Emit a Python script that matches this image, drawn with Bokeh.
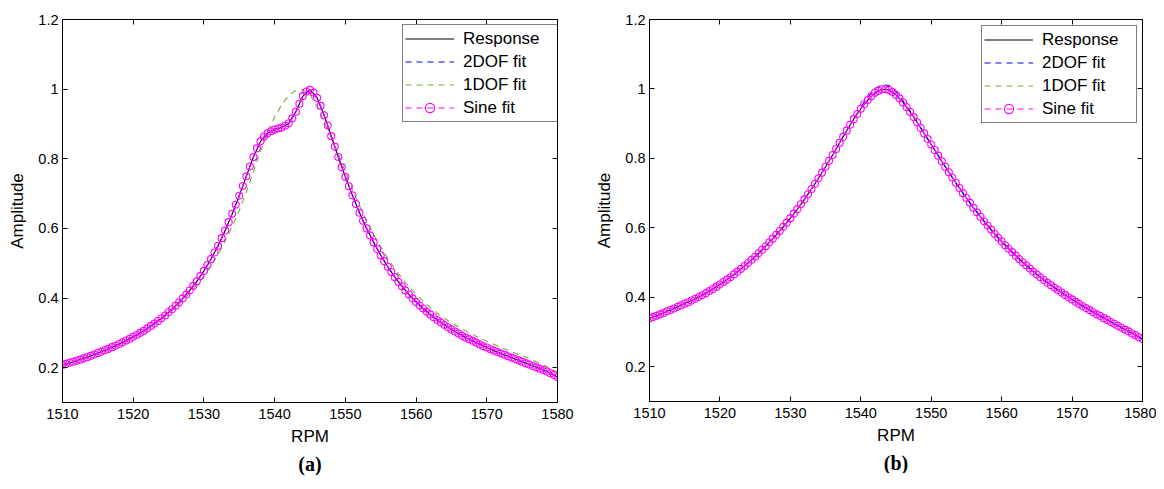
from bokeh.plotting import figure
from bokeh.layouts import row
from bokeh.models import (Legend, LegendItem, LinearAxis, FixedTicker, Title, Range1d)
from bokeh.embed import file_html
from bokeh.resources import INLINE

# ---------------- data ----------------
rpm = list(range(1510, 1581))                     # 1 RPM grid for the lines
rpm_sine = [1510 + 0.5 * i for i in range(141)]   # 0.5 RPM grid for sine-fit markers

x_ticks = [1510, 1520, 1530, 1540, 1550, 1560, 1570, 1580]
y_ticks = [0.2, 0.4, 0.6, 0.8, 1.0, 1.2]
y_tick_labels = ["0.2", "0.4", "0.6", "0.8", "1", "1.2"]

series_names = ["Response", "2DOF fit", "1DOF fit", "Sine fit"]
captions = ["(a)", "(b)"]

response_a = [0.208, 0.214, 0.220, 0.227, 0.234, 0.242, 0.250, 0.259, 0.268, 0.278,
              0.289, 0.300, 0.313, 0.327, 0.342, 0.359, 0.378, 0.399, 0.422, 0.448,
              0.478, 0.512, 0.550, 0.594, 0.642, 0.694, 0.750, 0.805, 0.850, 0.873,
              0.884, 0.890, 0.902, 0.935, 0.980, 0.998, 0.975, 0.925, 0.865, 0.805,
              0.748, 0.695, 0.645, 0.600, 0.560, 0.523, 0.490, 0.460, 0.434, 0.410,
              0.389, 0.370, 0.353, 0.337, 0.323, 0.310, 0.298, 0.287, 0.277, 0.267,
              0.258, 0.249, 0.241, 0.233, 0.225, 0.217, 0.209, 0.201, 0.193, 0.184,
              0.173]
dof2_a = [0.208, 0.214, 0.220, 0.227, 0.234, 0.242, 0.250, 0.259, 0.268, 0.278,
          0.289, 0.300, 0.313, 0.327, 0.342, 0.359, 0.378, 0.399, 0.422, 0.448,
          0.478, 0.512, 0.550, 0.594, 0.642, 0.694, 0.750, 0.805, 0.850, 0.873,
          0.884, 0.890, 0.902, 0.935, 0.980, 0.996, 0.975, 0.925, 0.865, 0.805,
          0.748, 0.695, 0.645, 0.600, 0.560, 0.523, 0.490, 0.460, 0.434, 0.410,
          0.389, 0.370, 0.353, 0.337, 0.323, 0.310, 0.298, 0.287, 0.277, 0.267,
          0.258, 0.249, 0.241, 0.233, 0.225, 0.217, 0.209, 0.201, 0.193, 0.184,
          0.173]
dof1_a = [0.205, 0.211, 0.217, 0.224, 0.231, 0.239, 0.247, 0.256, 0.265, 0.275,
          0.286, 0.297, 0.310, 0.324, 0.339, 0.356, 0.374, 0.394, 0.415, 0.438,
          0.463, 0.492, 0.525, 0.563, 0.605, 0.652, 0.705, 0.762, 0.822, 0.877,
          0.920, 0.955, 0.982, 0.997, 0.998, 0.984, 0.950, 0.905, 0.860, 0.815,
          0.762, 0.712, 0.665, 0.622, 0.583, 0.547, 0.514, 0.484, 0.457, 0.433,
          0.411, 0.391, 0.373, 0.357, 0.342, 0.329, 0.317, 0.306, 0.295, 0.285,
          0.276, 0.267, 0.258, 0.250, 0.242, 0.234, 0.226, 0.217, 0.208, 0.198,
          0.187]
sine_a = [0.208, 0.211, 0.214, 0.217, 0.220, 0.223, 0.227, 0.230, 0.234, 0.238,
          0.242, 0.246, 0.250, 0.254, 0.259, 0.263, 0.268, 0.273, 0.278, 0.283,
          0.289, 0.294, 0.300, 0.306, 0.313, 0.320, 0.327, 0.334, 0.342, 0.350,
          0.359, 0.368, 0.378, 0.388, 0.399, 0.410, 0.422, 0.435, 0.448, 0.463,
          0.478, 0.495, 0.512, 0.531, 0.550, 0.572, 0.594, 0.618, 0.642, 0.668,
          0.694, 0.722, 0.750, 0.778, 0.805, 0.830, 0.850, 0.864, 0.873, 0.879,
          0.884, 0.887, 0.890, 0.895, 0.902, 0.916, 0.935, 0.958, 0.980, 0.993,
          0.998, 0.990, 0.975, 0.952, 0.925, 0.896, 0.865, 0.835, 0.805, 0.776,
          0.748, 0.721, 0.695, 0.670, 0.645, 0.622, 0.600, 0.580, 0.560, 0.541,
          0.523, 0.506, 0.490, 0.475, 0.460, 0.447, 0.434, 0.422, 0.410, 0.399,
          0.389, 0.379, 0.370, 0.361, 0.353, 0.345, 0.337, 0.330, 0.323, 0.316,
          0.310, 0.304, 0.298, 0.292, 0.287, 0.282, 0.277, 0.272, 0.267, 0.262,
          0.258, 0.253, 0.249, 0.245, 0.241, 0.237, 0.233, 0.229, 0.225, 0.221,
          0.217, 0.213, 0.209, 0.205, 0.201, 0.197, 0.193, 0.189, 0.184, 0.179,
          0.173]

response_b = [0.340, 0.347, 0.355, 0.364, 0.373, 0.382, 0.391, 0.401, 0.412, 0.424,
              0.437, 0.451, 0.466, 0.482, 0.499, 0.517, 0.537, 0.558, 0.580, 0.603,
              0.628, 0.654, 0.682, 0.712, 0.743, 0.776, 0.810, 0.845, 0.880, 0.913,
              0.943, 0.968, 0.989, 0.999, 0.997, 0.983, 0.961, 0.934, 0.904, 0.872,
              0.840, 0.808, 0.776, 0.745, 0.715, 0.686, 0.658, 0.632, 0.607, 0.583,
              0.561, 0.540, 0.520, 0.501, 0.483, 0.466, 0.450, 0.435, 0.421, 0.407,
              0.394, 0.381, 0.369, 0.357, 0.346, 0.335, 0.324, 0.313, 0.302, 0.291,
              0.280]
dof2_b = [0.340, 0.347, 0.355, 0.364, 0.373, 0.382, 0.391, 0.401, 0.412, 0.424,
          0.437, 0.451, 0.466, 0.482, 0.499, 0.517, 0.537, 0.558, 0.580, 0.603,
          0.628, 0.654, 0.682, 0.712, 0.743, 0.776, 0.810, 0.845, 0.880, 0.913,
          0.948, 0.976, 1.001, 1.012, 1.010, 0.993, 0.966, 0.936, 0.905, 0.872,
          0.840, 0.808, 0.776, 0.745, 0.715, 0.686, 0.658, 0.632, 0.607, 0.583,
          0.561, 0.540, 0.520, 0.501, 0.483, 0.466, 0.450, 0.435, 0.421, 0.407,
          0.394, 0.381, 0.369, 0.357, 0.346, 0.335, 0.324, 0.313, 0.302, 0.291,
          0.280]
dof1_b = [0.340, 0.347, 0.355, 0.364, 0.373, 0.382, 0.391, 0.401, 0.412, 0.424,
          0.437, 0.451, 0.466, 0.482, 0.499, 0.517, 0.537, 0.558, 0.580, 0.603,
          0.628, 0.654, 0.682, 0.712, 0.743, 0.776, 0.810, 0.845, 0.880, 0.913,
          0.943, 0.968, 0.989, 0.998, 0.996, 0.983, 0.961, 0.934, 0.904, 0.872,
          0.840, 0.808, 0.776, 0.745, 0.715, 0.686, 0.658, 0.632, 0.607, 0.583,
          0.561, 0.540, 0.520, 0.501, 0.483, 0.466, 0.450, 0.435, 0.421, 0.407,
          0.394, 0.381, 0.369, 0.357, 0.346, 0.335, 0.324, 0.313, 0.302, 0.291,
          0.280]
sine_b = [0.340, 0.343, 0.347, 0.351, 0.355, 0.360, 0.364, 0.368, 0.373, 0.377,
          0.382, 0.386, 0.391, 0.396, 0.401, 0.406, 0.412, 0.418, 0.424, 0.430,
          0.437, 0.444, 0.451, 0.458, 0.466, 0.474, 0.482, 0.490, 0.499, 0.508,
          0.517, 0.527, 0.537, 0.547, 0.558, 0.569, 0.580, 0.591, 0.603, 0.615,
          0.628, 0.641, 0.654, 0.668, 0.682, 0.697, 0.712, 0.727, 0.743, 0.759,
          0.776, 0.793, 0.810, 0.827, 0.845, 0.862, 0.880, 0.897, 0.913, 0.928,
          0.943, 0.956, 0.968, 0.979, 0.989, 0.995, 0.999, 0.999, 0.997, 0.991,
          0.983, 0.973, 0.961, 0.948, 0.934, 0.919, 0.904, 0.888, 0.872, 0.856,
          0.840, 0.824, 0.808, 0.792, 0.776, 0.760, 0.745, 0.730, 0.715, 0.700,
          0.686, 0.672, 0.658, 0.645, 0.632, 0.619, 0.607, 0.595, 0.583, 0.572,
          0.561, 0.550, 0.540, 0.530, 0.520, 0.510, 0.501, 0.492, 0.483, 0.474,
          0.466, 0.458, 0.450, 0.442, 0.435, 0.428, 0.421, 0.414, 0.407, 0.400,
          0.394, 0.387, 0.381, 0.375, 0.369, 0.363, 0.357, 0.351, 0.346, 0.340,
          0.335, 0.329, 0.324, 0.318, 0.313, 0.307, 0.302, 0.296, 0.291, 0.285,
          0.280]

# ---------------- styling ----------------
FONT = "Liberation Sans"
C_RESP = "#000000"
C_2DOF = "#0000ff"
C_1DOF = "#77ac30"
C_SINE = "#ff00ff"
DASH = "6 5"


def make_panel(resp, dof2, dof1, sine, caption, left, right, top, fh, fw, leg_xy):
    p = figure(frame_width=fw, frame_height=fh,
               x_range=Range1d(1510, 1580), y_range=Range1d(0.1, 1.2),
               output_backend="svg", toolbar_location=None, title=None,
               min_border_left=left, min_border_right=right,
               min_border_top=top, min_border_bottom=60)
    p.xgrid.visible = False
    p.ygrid.visible = False
    p.outline_line_color = "black"
    p.background_fill_color = "white"

    # bottom / left axes
    xa = p.xaxis[0]
    xa.ticker = FixedTicker(ticks=x_ticks)
    ya = p.yaxis[0]
    ya.ticker = FixedTicker(ticks=y_ticks)
    ya.major_label_overrides = {t: s for t, s in zip(y_ticks, y_tick_labels)}
    for ax in (xa, ya):
        ax.major_tick_in = 5
        ax.major_tick_out = 0
        ax.minor_tick_line_color = None
        ax.axis_line_color = "black"
        ax.major_tick_line_color = "black"
        ax.major_label_text_font = FONT
        ax.major_label_text_font_size = "14.5px"
        ax.major_label_text_color = "black"
        ax.axis_label_text_font = FONT
        ax.axis_label_text_font_size = "17px"
        ax.axis_label_text_font_style = "normal"
        ax.axis_label_text_color = "black"
    xa.axis_label = "RPM"
    xa.major_label_standoff = 6
    xa.axis_label_standoff = 5
    ya.axis_label = "Amplitude"
    ya.major_label_standoff = 4
    ya.axis_label_standoff = 8

    # top / right axes (box with inward ticks, labels not drawn)
    for loc, tk in (("above", x_ticks), ("right", y_ticks)):
        ax = LinearAxis(ticker=FixedTicker(ticks=tk),
                        major_tick_in=5, major_tick_out=0,
                        minor_tick_line_color=None,
                        major_label_text_font_size="1px",
                        major_label_text_color=None,
                        major_label_standoff=0,
                        axis_line_color="black", major_tick_line_color="black")
        p.add_layout(ax, loc)

    r_resp = p.line(rpm, resp, line_color=C_RESP, line_width=1.1)
    r_2dof = p.line(rpm, dof2, line_color=C_2DOF, line_width=1.1, line_dash=DASH)
    r_1dof = p.line(rpm, dof1, line_color=C_1DOF, line_width=1.1, line_dash=DASH)
    r_sl = p.line(rpm_sine, sine, line_color=C_SINE, line_width=1.1, line_dash=DASH)
    r_sm = p.scatter(rpm_sine, sine, marker="circle", size=7, fill_color=None,
                     line_color=C_SINE, line_width=1.1)

    items = [LegendItem(label=series_names[0], renderers=[r_resp]),
             LegendItem(label=series_names[1], renderers=[r_2dof]),
             LegendItem(label=series_names[2], renderers=[r_1dof]),
             LegendItem(label=series_names[3], renderers=[r_sl, r_sm])]
    leg = Legend(items=items, location=leg_xy,
                 border_line_color="black", border_line_width=1,
                 background_fill_color="white", background_fill_alpha=1.0,
                 label_text_font=FONT, label_text_font_size="17px",
                 label_text_color="black",
                 glyph_width=49, glyph_height=23, label_height=23,
                 label_width=92, label_standoff=9,
                 spacing=0, padding=2, margin=0)
    p.add_layout(leg)

    p.add_layout(Title(text=caption, align="center", text_font="Liberation Serif",
                       text_font_size="20px", text_font_style="bold",
                       text_color="black", standoff=5), "below")
    return p


pa = make_panel(response_a, dof2_a, dof1_a, sine_a, captions[0],
                left=62, right=23, top=19, fh=383, fw=495, leg_xy=(340, 280))
pb = make_panel(response_b, dof2_b, dof1_b, sine_b, captions[1],
                left=69, right=14, top=16, fh=382, fw=493, leg_xy=(332, 278))

layout = row(pa, pb)
open("out.html", "w").write(file_html(layout, INLINE))
